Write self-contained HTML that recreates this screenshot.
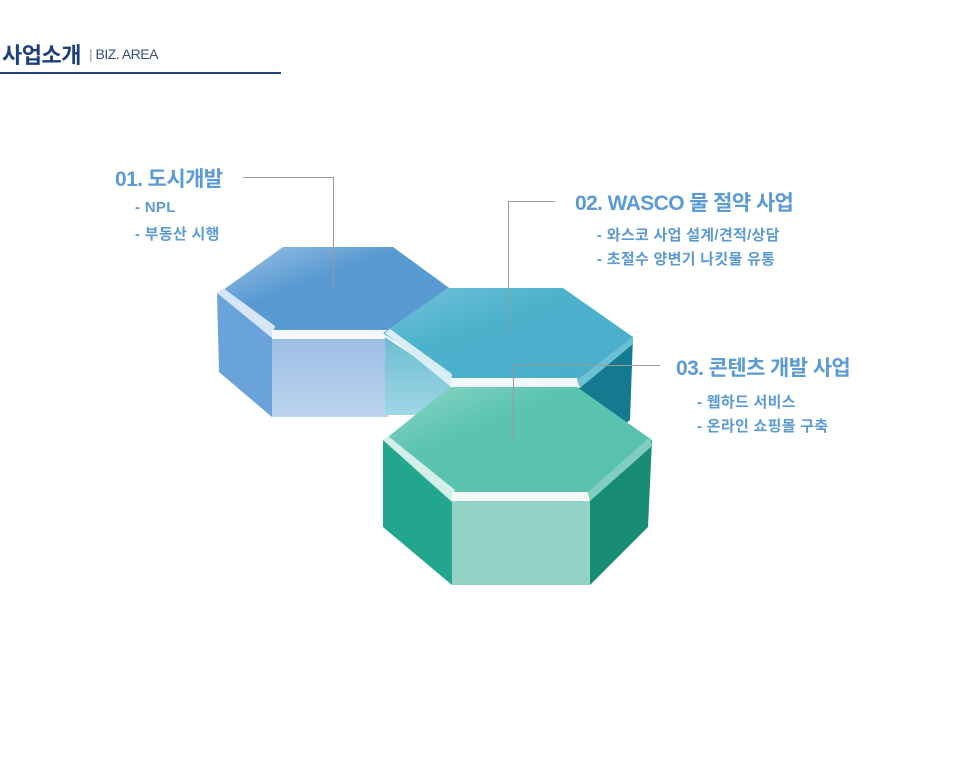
<!DOCTYPE html>
<html><head><meta charset="utf-8"><style>
body{margin:0;background:#fff;width:960px;height:764px;overflow:hidden;position:relative;font-family:"Liberation Sans","Noto Sans CJK KR",sans-serif}
.t{position:absolute;color:#5a9ad6;font-weight:bold;white-space:nowrap}
.h{font-size:21px;letter-spacing:-0.6px}
.s{font-size:15px;letter-spacing:0.3px}
</style></head><body>
<div style="position:absolute;left:2px;top:38px;font-size:22px;font-weight:bold;color:#1d3f7c;letter-spacing:-0.5px">사업소개</div>
<div style="position:absolute;left:89px;top:46px;font-size:14px;color:#3a4f7a;letter-spacing:-0.5px"><span style="color:#999">|</span> BIZ. AREA</div>
<div style="position:absolute;left:0;top:72px;width:281px;height:2px;background:#1f3f7e"></div>

<svg width="960" height="764" style="position:absolute;left:0;top:0">
<defs>
<linearGradient id="b1" x1="0" y1="0" x2="1" y2="1"><stop offset="0" stop-color="#9cc3e6"/><stop offset="0.4" stop-color="#5799d1"/><stop offset="1" stop-color="#5b9bd3"/></linearGradient>
<linearGradient id="t1" x1="0" y1="0" x2="1" y2="1"><stop offset="0" stop-color="#74c1d9"/><stop offset="0.4" stop-color="#4cb2cc"/><stop offset="1" stop-color="#49aecb"/></linearGradient>
<linearGradient id="g1" x1="0" y1="0" x2="1" y2="1"><stop offset="0" stop-color="#8cd5c6"/><stop offset="0.35" stop-color="#5bc4b1"/><stop offset="1" stop-color="#57c1ad"/></linearGradient>
<linearGradient id="bf" x1="0" y1="0" x2="0" y2="1"><stop offset="0" stop-color="#99bce3"/><stop offset="1" stop-color="#bcd3ef"/></linearGradient>
<linearGradient id="tf" x1="0" y1="0" x2="0" y2="1"><stop offset="0" stop-color="#6dbdd3"/><stop offset="1" stop-color="#9fd6e4"/></linearGradient>
</defs>
<polygon points="217,293 272,332 272,417 219,372" fill="#6aa3db"/>
<polygon points="272,332 388,332 388,417 272,417" fill="url(#bf)"/>
<polygon points="223,290 283,247 393,247 452,290 388,332 272,332" fill="url(#b1)"/>
<polygon points="217,293 223,288 275,326 272,338" fill="#d6e6f7"/>
<polygon points="272,330 388,330 388,339 272,339" fill="#f2f7fd"/>
<polygon points="385,337 450,380 450,415 385,415" fill="url(#tf)"/>
<polygon points="577,380 633,337 630,420 600,445 577,445" fill="#137a90"/>
<polygon points="383,333 448,288 563,288 633,337 577,380 450,380" fill="url(#t1)"/>
<polygon points="385,333 390,329 452,374 450,386" fill="#d8eef4"/>
<polygon points="450,378 577,378 580,388 450,388" fill="#f0f8fb"/>
<polygon points="577,380 633,337 633,344 580,388" fill="#6cc0d4"/>
<polygon points="383,440 452,497 452,585 383,527" fill="#22a68e"/>
<polygon points="590,497 652,440 648,527 590,585" fill="#188b74"/>
<polygon points="452,497 590,497 590,585 452,585" fill="#93d3c6"/>
<polygon points="388,437 450,387 577,387 652,440 590,497 452,497" fill="url(#g1)"/>
<polygon points="383,440 388,436 455,490 452,502" fill="#d4eee8"/>
<polygon points="452,492 588,492 590,501 452,501" fill="#f2faf8"/>
<polygon points="588,492 650,437 652,446 590,501" fill="#7fcebf"/>
<g stroke="#9a9a9a" stroke-width="1" fill="none">
<polyline points="243,177.5 333.5,177.5 333.5,290"/>
<polyline points="555,201.5 508.5,201.5 508.5,333"/>
<polyline points="660,365.5 513.5,365.5 513.5,440"/>
</g>
</svg>

<div class="t h" style="left:115px;top:163px">01. 도시개발</div>
<div class="t s" style="left:135px;top:199px">- NPL</div>
<div class="t s" style="left:135px;top:223px">- 부동산 시행</div>
<div class="t h" style="left:575px;top:187px">02. WASCO 물 절약 사업</div>
<div class="t s" style="left:597px;top:224px">- 와스코 사업 설계/견적/상담</div>
<div class="t s" style="left:597px;top:248px">- 초절수 양변기 나킷물 유통</div>
<div class="t h" style="left:676px;top:352px">03. 콘텐츠 개발 사업</div>
<div class="t s" style="left:697px;top:391px">- 웹하드 서비스</div>
<div class="t s" style="left:697px;top:415px">- 온라인 쇼핑몰 구축</div>
</body></html>
